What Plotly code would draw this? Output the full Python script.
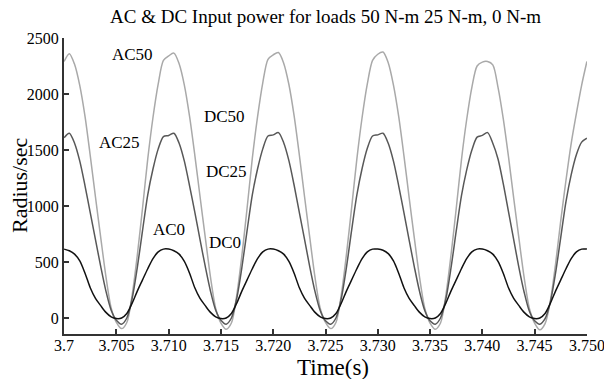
import plotly.graph_objects as go

# time grid (s)
time_s = [round(3.7 + i * 0.0005, 4) for i in range(101)]

# AC50 / DC50 input power (light gray)
ac50 = [
    2290, 2360, 2265, 2075, 1800, 1450, 1080, 720, 370, 90, -40, -95, -40, 200, 560, 980, 1420, 1790, 2090, 2300,
    2340, 2365, 2270, 2080, 1800, 1455, 1085, 720, 365, 85, -45, -100, -45, 195, 555, 980, 1425, 1795, 2100, 2310,
    2350, 2370, 2275, 2085, 1805, 1455, 1080, 715, 360, 85, -40, -95, -40, 200, 565, 985, 1420, 1790, 2090, 2300,
    2355, 2375, 2280, 2080, 1800, 1450, 1075, 710, 360, 85, -45, -100, -45, 195, 560, 975, 1410, 1770, 2060, 2250,
    2285, 2290, 2260, 2060, 1780, 1440, 1070, 710, 360, 85, -45, -105, -50, 150, 480, 870, 1230, 1560, 1830, 2080,
    2290,
]

# AC25 / DC25 input power (dark gray)
ac25 = [
    1610, 1650, 1560, 1400, 1180, 940, 700, 460, 240, 70, -20, -55, 0, 170, 450, 780, 1100, 1330, 1510, 1620,
    1630, 1650, 1560, 1400, 1180, 945, 700, 460, 240, 70, -20, -55, 0, 170, 450, 780, 1100, 1330, 1510, 1625,
    1635, 1655, 1565, 1405, 1185, 940, 700, 455, 235, 65, -25, -55, 0, 170, 450, 785, 1100, 1335, 1515, 1625,
    1635, 1650, 1560, 1400, 1180, 940, 695, 455, 235, 65, -25, -55, 0, 165, 445, 775, 1090, 1320, 1500, 1615,
    1630, 1655, 1560, 1420, 1200, 950, 700, 450, 230, 60, -25, -55, -5, 140, 400, 720, 1040, 1280, 1460, 1570,
    1605,
]

# AC0 / DC0 input power (black)
ac0 = [
    615, 600, 570, 510, 400, 270, 175, 110, 50, 10, -5, 0, 40, 130, 240, 340, 440, 530, 590, 615,
    615, 600, 570, 505, 400, 270, 175, 110, 50, 10, -5, 0, 40, 130, 240, 340, 440, 530, 590, 615,
    615, 600, 570, 505, 400, 270, 175, 110, 50, 10, -5, 0, 40, 130, 240, 340, 440, 530, 590, 615,
    615, 605, 575, 510, 400, 270, 175, 110, 50, 10, -5, 0, 40, 130, 240, 340, 440, 530, 590, 615,
    615, 600, 570, 505, 400, 270, 175, 110, 50, 10, -5, 0, 40, 130, 240, 340, 440, 530, 590, 615,
    615,
]

x_tick_vals = [3.7, 3.705, 3.71, 3.715, 3.72, 3.725, 3.73, 3.735, 3.74, 3.745, 3.75]
x_tick_text = ["3.7", "3.705", "3.710", "3.715", "3.720", "3.725", "3.730", "3.735", "3.740", "3.745", "3.750"]
y_tick_vals = [0, 500, 1000, 1500, 2000, 2500]

label_text = ["AC50", "AC25", "DC50", "DC25", "AC0", "DC0"]
label_x = [3.70657, 3.70533, 3.71533, 3.71552, 3.71, 3.71543]
label_y = [2349, 1563, 1795, 1304, 786, 670]

SERIF = "Liberation Serif, Times New Roman, serif"

fig = go.Figure()
fig.add_trace(go.Scatter(x=time_s, y=ac50, mode="lines", line=dict(color="#a9a9a9", width=1.5, shape="spline", smoothing=0.8), name="50"))
fig.add_trace(go.Scatter(x=time_s, y=ac25, mode="lines", line=dict(color="#585858", width=1.5, shape="spline", smoothing=0.8), name="25"))
fig.add_trace(go.Scatter(x=time_s, y=ac0, mode="lines", line=dict(color="#111111", width=1.5, shape="spline", smoothing=0.8), name="0"))

for t, lx, ly in zip(label_text, label_x, label_y):
    fig.add_annotation(x=lx, y=ly, text=t, showarrow=False, xref="x", yref="y",
                       font=dict(family=SERIF, size=17, color="black"))

# axis titles and chart title as annotations (fixed positions)
fig.add_annotation(x=0.5, y=1.0, xref="paper", yref="paper", yshift=22, text="AC & DC Input power for loads 50 N-m 25 N-m, 0 N-m",
                   showarrow=False, xanchor="center", yanchor="middle", font=dict(family=SERIF, size=19, color="black"))
fig.add_annotation(x=0.515, y=0.0, xref="paper", yref="paper", yshift=-33, text="Time(s)",
                   showarrow=False, xanchor="center", yanchor="middle", font=dict(family=SERIF, size=23, color="black"))
fig.add_annotation(x=0.0, y=0.5, xref="paper", yref="paper", xshift=-45, yshift=1, text="Radius/sec", textangle=-90,
                   showarrow=False, xanchor="center", yanchor="middle", font=dict(family=SERIF, size=22, color="black"))

fig.update_layout(
    width=604, height=379,
    margin=dict(l=64, r=17, t=38, b=45, autoexpand=False),
    paper_bgcolor="white", plot_bgcolor="white",
    showlegend=False,
    font=dict(family=SERIF, size=16, color="black"),
)
fig.update_xaxes(range=[3.69999, 3.75001], tickvals=x_tick_vals, ticktext=x_tick_text, automargin=False,
                 ticklabeloverflow="allow", ticklabelstandoff=-4,
                 showgrid=False, zeroline=False, showline=True, linecolor="#333333", linewidth=2,
                 ticks="inside", ticklen=5, tickcolor="#333333", tickwidth=1.5,
                 tickfont=dict(family=SERIF, size=16, color="black"))
fig.update_yaxes(range=[-143, 2500], tickvals=y_tick_vals, automargin=False,
                 ticklabeloverflow="allow",
                 showgrid=False, zeroline=False, showline=True, linecolor="#333333", linewidth=2,
                 ticks="inside", ticklen=5, tickcolor="#333333", tickwidth=1.5,
                 tickfont=dict(family=SERIF, size=16, color="black"))

fig.write_html("out.html")
